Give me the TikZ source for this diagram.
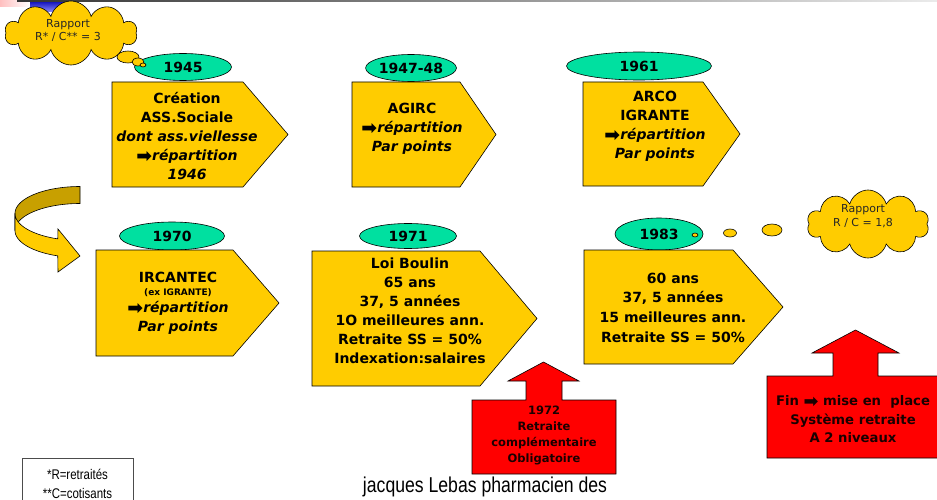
\documentclass[tikz,border=0pt]{standalone}
\usepackage{fontspec}
\setmainfont{DejaVu Sans}
\newfontfamily\libfont{Liberation Sans}
\newfontfamily\narrowfont{Liberation Sans}[FakeStretch=0.82]
\usetikzlibrary{shapes.geometric,shapes.symbols}
\definecolor{boxy}{RGB}{255,204,0}
\definecolor{yeargreen}{RGB}{0,224,160}
\definecolor{darkgold}{RGB}{200,160,0}
\definecolor{redbox}{RGB}{255,0,0}
\newcommand{\harrow}{\textup{\raisebox{-0.12em}{\scalebox{1.35}{➡}}}}
\begin{document}
\begin{tikzpicture}[x=1pt,y=-1pt,
 yearnode/.style={ellipse, draw=black, line width=0.6pt, fill=yeargreen, inner sep=0pt, font=\bfseries\fontsize{14}{14}\selectfont},
 penta/.style={draw=black, line width=0.6pt, fill=boxy},
 boxtext/.style={align=center, font=\bfseries\fontsize{14}{19}\selectfont, inner sep=0pt},
 bubble/.style={ellipse, draw=black, line width=0.6pt, fill=boxy, inner sep=0pt},
 cloudnode/.style={cloud, cloud puffs=10, cloud ignores aspect, draw=black, line width=0.6pt, fill=boxy, inner sep=0pt},
 cloudtext/.style={align=center, inner sep=0pt, text=black!85, font=\fontsize{11}{13.5}\selectfont},
 redarrow/.style={draw=black, line width=0.6pt, fill=redbox},
 redtext/.style={align=center, inner sep=0pt, text=black!90!red},
 ribbon/.style={draw=black, line width=0.6pt},
]
\useasboundingbox (0,0) rectangle (937,500);
% top decoration
\shade[left color=red!25, right color=white] (0,0) rectangle (30,7);
\shade[top color=blue!70!black, bottom color=blue!45] (30,0) rectangle (67,12);
\shade[left color=black!80, right color=black!8] (17,0) rectangle (937,1.5);

% cloud 1
\node[cloudnode, minimum width=132pt, minimum height=64pt] (cloudA) at (71,33) {};
\node[cloudtext] (cloudAtext) at (68,30.5) {Rapport\\R* / C** = 3};

% year ellipses
\node[yearnode, minimum width=97pt, minimum height=27pt] (y1945) at (183,67) {1945};
\node[yearnode, minimum width=89pt, minimum height=27pt] (y1947) at (411,68) {1947-48};
\node[yearnode, minimum width=145pt, minimum height=28pt] (y1961) at (639,66) {1961};
\node[yearnode, minimum width=105pt, minimum height=28pt] (y1970) at (172,236) {1970};
\node[yearnode, minimum width=97pt, minimum height=25pt] (y1971) at (408,236) {1971};
\node[yearnode, minimum width=88pt, minimum height=32pt] (y1983) at (659,234) {1983};

% thought bubbles cloud 1
\node[bubble, minimum width=22pt, minimum height=12pt] (bA1) at (128,57) {};
\node[bubble, minimum width=12pt, minimum height=8pt] (bA2) at (138,62) {};
\node[bubble, minimum width=6pt, minimum height=4pt] (bA3) at (143,65) {};

% cloud 2 and bubbles
\node[cloudnode, minimum width=122pt, minimum height=68pt] (cloudB) at (868,224) {};
\node[cloudtext] (cloudBtext) at (863,216) {Rapport\\R / C = 1,8};
\node[bubble, minimum width=6pt, minimum height=4pt] (bB1) at (695,235) {};
\node[bubble, minimum width=13pt, minimum height=8pt] (bB2) at (730,233) {};
\node[bubble, minimum width=20pt, minimum height=12pt] (bB3) at (772,230) {};

% pentagon boxes
\draw[penta] (112,82) -- (243,82) -- (288,134.5) -- (243,187) -- (112,187) -- cycle;
\node[boxtext] (t1945) at (187,136) {Création\\ASS.Sociale\\\textit{dont ass.viellesse}\\\textit{\harrow répartition}\\\textit{1946}};

\draw[penta] (352,82) -- (460,82) -- (496,134.5) -- (460,187) -- (352,187) -- cycle;
\node[boxtext] (t1947) at (412,129) {AGIRC\\\textit{\harrow répartition}\\\textit{Par points}};

\draw[penta] (583,82) -- (703,82) -- (740,134) -- (703,186) -- (583,186) -- cycle;
\node[boxtext] (t1961) at (655,126.5) {ARCO\\IGRANTE\\\textit{\harrow répartition}\\\textit{Par points}};

\draw[penta] (96,250) -- (233,250) -- (279,303) -- (233,356) -- (96,356) -- cycle;
\node[boxtext] (t1970) at (178,303.5) {IRCANTEC\\[-6pt]{\fontsize{9}{10}\selectfont (ex IGRANTE)}\\[-2pt]\textit{\harrow répartition}\\\textit{Par points}};

\draw[penta] (312,251) -- (480,251) -- (537,318.5) -- (480,386) -- (312,386) -- cycle;
\node[boxtext] (t1971) at (410,310.5) {Loi Boulin\\65 ans\\37, 5 années\\1O meilleures ann.\\Retraite SS = 50\%\\Indexation:salaires};

\draw[penta] (584,250) -- (733,250) -- (783,307) -- (733,364) -- (584,364) -- cycle;
\node[boxtext, font=\bfseries\fontsize{14}{19.7}\selectfont] (t1983) at (673,307.5) {60 ans\\37, 5 années\\15 meilleures ann.\\Retraite SS = 50\%};

% curved arrow
\filldraw[ribbon, fill=darkgold] plot[domain=90:180, samples=40] ({80+65*cos(\x)},{222-27*sin(\x)-8.5})
  -- plot[domain=180:90, samples=40] ({80+65*cos(\x)},{222-27*sin(\x)+8.5}) -- cycle;
\filldraw[ribbon, fill=boxy] plot[domain=180:250, samples=40] ({80+65*cos(\x)},{222-27*sin(\x)-8.5})
  -- (58,229) -- (80,256) -- (58,272) --
  plot[domain=250:180, samples=40] ({80+65*cos(\x)},{222-27*sin(\x)+8.5}) -- cycle;

% red arrows
\draw[redarrow] (472,400) -- (526,400) -- (526,381) -- (508,381) -- (543.5,362) -- (579,381) -- (562,381) -- (562,400) -- (616,400) -- (616,474) -- (472,474) -- cycle;
\node[redtext, font=\bfseries\fontsize{11.5}{16.3}\selectfont] (t1972) at (544,435.5) {1972\\Retraite\\complémentaire\\Obligatoire};

\draw[redarrow] (767,376) -- (833,376) -- (833,353) -- (812,353) -- (855.5,330) -- (899,353) -- (878,353) -- (878,376) -- (944,376) -- (944,458) -- (767,458) -- cycle;
\node[redtext, font=\bfseries\fontsize{13.2}{18.5}\selectfont] (tfin) at (853,419.5) {Fin \harrow{} mise en\ \ place\\Système retraite\\A 2 niveaux};

% legend
\node[draw=black!70, line width=0.6pt, minimum width=111pt, minimum height=52pt, inner sep=0pt, align=center, font=\narrowfont\fontsize{14}{19}\selectfont] (legend) at (77.5,484) {*R=retraités\\**C=cotisants};

% footer
\node[inner sep=0pt, font=\narrowfont\fontsize{21.5}{21.5}\selectfont] (footer) at (485,487) {jacques Lebas pharmacien des};
\end{tikzpicture}
\end{document}
